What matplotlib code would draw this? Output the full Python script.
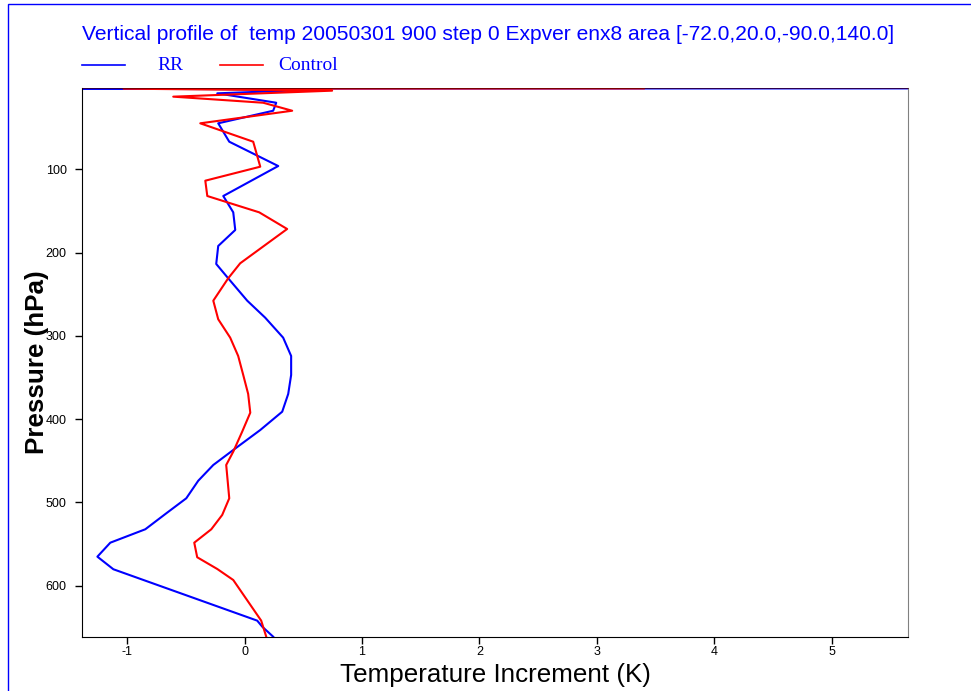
import matplotlib
matplotlib.use("Agg")
import matplotlib.pyplot as plt
from matplotlib.lines import Line2D
from matplotlib.patches import Rectangle

plt.rcParams['font.family'] = ['Liberation Sans', 'DejaVu Sans']
plt.rcParams['axes.unicode_minus'] = False

# temperature increment profiles (K) against pressure (hPa)
rr_temp = [5.9, -1.6, 0.687, -0.232, 0.270, 0.244, -0.224, -0.130, 0.287, -0.181,
           -0.096, -0.079, -0.224, -0.241, -0.139, 0.023, 0.176, 0.329, 0.397, 0.397,
           0.372, 0.321, 0.134, -0.096, -0.266, -0.394, -0.496, -0.666, -0.845, -1.143,
           -1.253, -1.117, 0.108, 0.151, 0.244]
rr_pres = [2.9, 3.2, 4.0, 8.8, 20.1, 29.7, 44.8, 66.9, 96.1, 132.1,
           151.7, 172.9, 192.1, 213.7, 230.9, 257.8, 278.2, 302.2, 324.2, 347.0,
           369.8, 391.1, 413.1, 437.1, 455.1, 474.0, 495.1, 513.1, 532.3, 548.4,
           565.2, 580.3, 642.0, 649.3, 661.3]

ctl_temp = [3.4, -1.03, 0.746, -0.607, 0.159, 0.406, -0.377, 0.074, 0.134, -0.334,
            -0.317, 0.125, 0.363, -0.037, -0.139, -0.266, -0.224, -0.122, -0.054, -0.011,
            0.031, 0.049, -0.020, -0.096, -0.156, -0.130, -0.190, -0.283, -0.428, -0.403,
            -0.232, -0.096, 0.142, 0.185]
ctl_pres = [2.9, 3.2, 5.6, 12.8, 20.1, 29.7, 44.8, 66.9, 96.9, 113.7,
            132.1, 151.7, 171.7, 212.9, 230.9, 257.8, 280.1, 302.2, 324.2, 347.0,
            369.8, 392.3, 415.1, 439.1, 455.1, 495.1, 515.1, 532.3, 548.4, 565.9,
            580.0, 593.2, 642.0, 661.3]

pres_ticks = [100, 200, 300, 400, 500, 600]
temp_ticks = [-1, 0, 1, 2, 3, 4, 5]

title = "Vertical profile of  temp 20050301 900 step 0 Expver enx8 area [-72.0,20.0,-90.0,140.0]"

W, H = 971, 691
fig = plt.figure(figsize=(W / 100, H / 100), dpi=100)
ax = fig.add_axes([82 / W, 1 - 636.7 / H, (908 - 82) / W, (636.7 - 88) / H])

ax.plot(rr_temp, rr_pres, color='#0000ff', lw=1.5)
ax.plot(ctl_temp, ctl_pres, color='#ff0000', lw=1.5)

ax.set_xlim(-1.384, 5.65)
ax.set_ylim(661.3, 2.4)
ax.set_yticks(pres_ticks)
ax.set_xticks(temp_ticks)
ax.set_xticklabels([str(t) for t in temp_ticks])
ax.tick_params(direction='out', length=5, width=1, labelsize=9)
ax.tick_params(axis='y', pad=6)
ax.tick_params(axis='x', pad=2)
ax.spines['right'].set_color('0.5')
ax.spines['top'].set_linewidth(0.5)
ax.spines['top'].set_color('#400000')
for s in ['left', 'bottom']:
    ax.spines[s].set_color('black')

ax.set_xlabel("Temperature Increment (K)", fontsize=18.7, labelpad=3)
ax.set_ylabel("Pressure (hPa)", fontsize=18.7, fontweight='bold')
ax.yaxis.set_label_coords(-0.040, 0.5)

fig.text(82 / W, 1 - 35 / H, title, color='#0000ff', fontsize=15.1, va='center', ha='left')

# legend drawn by hand along the top
fig.add_artist(Line2D([82 / W, 125 / W], [1 - 65 / H] * 2, color='#0000ff', lw=1.2))
fig.add_artist(Line2D([220 / W, 263 / W], [1 - 65 / H] * 2, color='#ff0000', lw=1.2))
fig.text(157 / W, 1 - 66 / H, "RR", color='#0000ff', fontsize=14,
         family='Liberation Serif', va='center', ha='left')
fig.text(278 / W, 1 - 66 / H, "Control", color='#0000ff', fontsize=14,
         family='Liberation Serif', va='center', ha='left')

# page frame
fig.add_artist(Rectangle((8 / W, -0.1), 1.2, 1 - 4 / H + 0.1, transform=fig.transFigure,
                         fill=False, edgecolor='#0000ff', lw=1))

fig.savefig("out.png", dpi=100)
